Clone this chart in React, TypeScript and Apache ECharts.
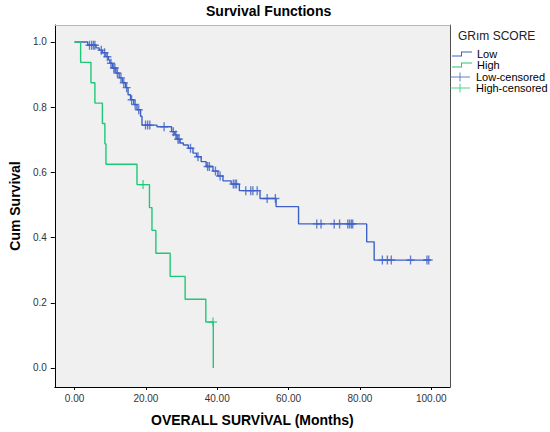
import React, { useEffect, useRef } from "react";
import * as echarts from "echarts";

const xTicks = [0, 20, 40, 60, 80, 100];
const yTicks = [0, 0.2, 0.4, 0.6, 0.8, 1.0];

const lowTimes = [0, 3.7, 6.0, 6.9, 7.8, 8.8, 9.5, 9.9, 10.6, 11.6, 12.5, 13.4, 14.3, 15.0, 15.7, 16.6, 17.5, 18.5, 18.9, 23.1, 27.2, 28.1, 28.7, 29.6, 30.5, 31.9, 33.2, 34.2, 35.5, 36.9, 38.8, 40.2, 41.6, 43.9, 46.2, 52.0, 56.5, 62.8, 81.9, 84.0, 99.5];
const lowSurv = [1, 0.99, 0.982, 0.975, 0.967, 0.955, 0.945, 0.935, 0.92, 0.905, 0.89, 0.875, 0.86, 0.838, 0.823, 0.808, 0.792, 0.772, 0.745, 0.74, 0.725, 0.715, 0.702, 0.69, 0.684, 0.674, 0.659, 0.648, 0.633, 0.618, 0.604, 0.589, 0.574, 0.564, 0.544, 0.52, 0.495, 0.442, 0.387, 0.331, 0.331];

const highTimes = [0, 1.7, 4.6, 5.7, 7.8, 8.5, 8.8, 17.5, 21.0, 21.7, 22.8, 26.8, 31.0, 36.8, 38.9];
const highSurv = [1, 0.9375, 0.875, 0.8125, 0.75, 0.6875, 0.625, 0.5625, 0.492, 0.422, 0.352, 0.281, 0.211, 0.141, 0];

const lowCensTimes = [4.2, 4.8, 5.3, 5.7, 7.5, 8.4, 9.2, 10.2, 11.0, 11.3, 12.0, 13.0, 13.8, 14.6, 16.0, 17.0, 18.0, 19.9, 20.5, 21.1, 25.1, 27.7, 28.4, 29.0, 29.3, 32.5, 34.6, 37.3, 37.8, 39.5, 40.8, 44.5, 45.0, 45.4, 48.0, 49.4, 50.0, 51.2, 54.0, 56.3, 67.9, 69.1, 72.8, 74.3, 76.6, 77.1, 77.6, 78.0, 86.3, 87.7, 88.8, 94.2, 98.8, 99.3];
const lowCensSurv = [0.99, 0.99, 0.99, 0.99, 0.975, 0.967, 0.955, 0.935, 0.92, 0.92, 0.905, 0.89, 0.875, 0.86, 0.823, 0.808, 0.792, 0.745, 0.745, 0.745, 0.74, 0.725, 0.715, 0.702, 0.702, 0.674, 0.648, 0.618, 0.618, 0.604, 0.589, 0.564, 0.564, 0.564, 0.544, 0.544, 0.544, 0.544, 0.52, 0.52, 0.442, 0.442, 0.442, 0.442, 0.442, 0.442, 0.442, 0.442, 0.331, 0.331, 0.331, 0.331, 0.331, 0.331];

const highCensTimes = [19.2, 38.8];
const highCensSurv = [0.5625, 0.141];

const seriesNames = ["Low", "High", "Low-censored", "High-censored"];

const BLUE = "#3d60c6";
const GREEN = "#1ec878";
const FONT = 'Arial, "Liberation Sans", sans-serif';

const CROSS = "path://M4.15,0H5.85V4.2H10V5.8H5.85V10H4.15V5.8H0V4.2H4.15Z";
const STEP_ICON = "path://M0,4H9V0H20V1H10V5H0Z";
const CROSS_ICON = "path://M0,4H9.5V0H10.5V4H20V5H10.5V9H9.5V5H0Z";

const X_MIN = -5.54;
const X_MAX = 105.26;
const Y_MIN = -0.0583;
const Y_MAX = 1.0521;

export default function App() {
  const ref = useRef<HTMLDivElement>(null);
  useEffect(() => {
    document.body.style.margin = "0";
    if (!ref.current) return;
    const chart = echarts.init(ref.current, undefined, { renderer: "svg" });
    const option: any = {
      animation: false,
      backgroundColor: "#ffffff",
      textStyle: { fontFamily: FONT },
      title: [
        {
          text: "Survival Functions",
          left: 206,
          top: 4,
          padding: 0,
          textStyle: { fontSize: 14, fontWeight: "bold", color: "#000", fontFamily: FONT },
        },
        {
          text: "GRım SCORE",
          left: 458,
          top: 30,
          padding: 0,
          textStyle: { fontSize: 12, fontWeight: "normal", color: "#222", fontFamily: FONT },
        },
      ],
      legend: [
        {
          orient: "vertical",
          left: 452,
          top: 48.5,
          padding: 0,
          itemGap: 0,
          itemWidth: 20,
          itemHeight: 5,
          textStyle: { fontSize: 11, lineHeight: 11, color: "#000", fontFamily: FONT },
          data: [
            { name: seriesNames[0], icon: STEP_ICON },
            { name: seriesNames[1], icon: STEP_ICON },
          ],
        },
        {
          orient: "vertical",
          left: 450,
          top: 71.5,
          padding: 0,
          itemGap: 0,
          itemWidth: 22,
          itemHeight: 9,
          textStyle: { fontSize: 11, lineHeight: 11, color: "#000", fontFamily: FONT },
          data: [
            { name: seriesNames[2], icon: CROSS_ICON },
            { name: seriesNames[3], icon: CROSS_ICON },
          ],
        },
      ],
      grid: {
        left: 50,
        right: 100,
        top: 25,
        bottom: 45,
        show: true,
        backgroundColor: "#f0f0f0",
        borderWidth: 0,
      },
      xAxis: [
        {
          type: "value",
          min: X_MIN,
          max: X_MAX,
          name: "OVERALL SURVİVAL (Months)",
          nameLocation: "middle",
          nameGap: 26,
          nameTextStyle: { fontSize: 14, fontWeight: "bold", color: "#000", fontFamily: FONT },
          axisLine: { show: true, onZero: false, lineStyle: { color: "#000", width: 1 } },
          axisTick: { show: true, customValues: xTicks, length: 3, lineStyle: { color: "#000" } },
          axisLabel: {
            customValues: xTicks,
            formatter: (v: number) => v.toFixed(2),
            fontSize: 10,
            color: "#333",
            margin: 6,
          },
          splitLine: { show: false },
        },
        {
          type: "value",
          position: "top",
          min: X_MIN,
          max: X_MAX,
          axisLine: { show: true, onZero: false, lineStyle: { color: "#b8b8b8", width: 1 } },
          axisTick: { show: false },
          axisLabel: { show: false },
          splitLine: { show: false },
        },
      ],
      yAxis: [
        {
          type: "value",
          min: Y_MIN,
          max: Y_MAX,
          name: "Cum Survival",
          nameLocation: "middle",
          nameRotate: 90,
          nameGap: 31,
          nameTextStyle: { fontSize: 14, fontWeight: "bold", color: "#000", fontFamily: FONT },
          axisLine: { show: true, onZero: false, lineStyle: { color: "#000", width: 1 } },
          axisTick: { show: true, customValues: yTicks, length: 4, lineStyle: { color: "#000" } },
          axisLabel: {
            customValues: yTicks,
            formatter: (v: number) => v.toFixed(1),
            fontSize: 10,
            color: "#333",
            margin: 8,
          },
          splitLine: { show: false },
        },
        {
          type: "value",
          position: "right",
          min: Y_MIN,
          max: Y_MAX,
          axisLine: { show: true, onZero: false, lineStyle: { color: "#505050", width: 1 } },
          axisTick: { show: false },
          axisLabel: { show: false },
          splitLine: { show: false },
        },
      ],
      series: [
        {
          name: seriesNames[0],
          type: "line",
          step: "end",
          showSymbol: false,
          symbol: "none",
          data: lowTimes.map((t, i) => [t, lowSurv[i]]),
          lineStyle: { color: BLUE, width: 1.4 },
          itemStyle: { color: BLUE },
          z: 2,
        },
        {
          name: seriesNames[1],
          type: "line",
          step: "end",
          showSymbol: false,
          symbol: "none",
          data: highTimes.map((t, i) => [t, highSurv[i]]),
          lineStyle: { color: GREEN, width: 1.4 },
          itemStyle: { color: GREEN },
          z: 3,
        },
        {
          name: seriesNames[2],
          type: "scatter",
          symbol: CROSS,
          symbolSize: [8, 9],
          data: lowCensTimes.map((t, i) => [t, lowCensSurv[i]]),
          itemStyle: { color: BLUE },
          z: 4,
        },
        {
          name: seriesNames[3],
          type: "scatter",
          symbol: CROSS,
          symbolSize: [8, 9],
          data: highCensTimes.map((t, i) => [t, highCensSurv[i]]),
          itemStyle: { color: GREEN },
          z: 5,
        },
      ],
    };
    chart.setOption(option);
    return () => chart.dispose();
  }, []);
  return <div ref={ref} style={{ width: 550, height: 432 }} />;
}
